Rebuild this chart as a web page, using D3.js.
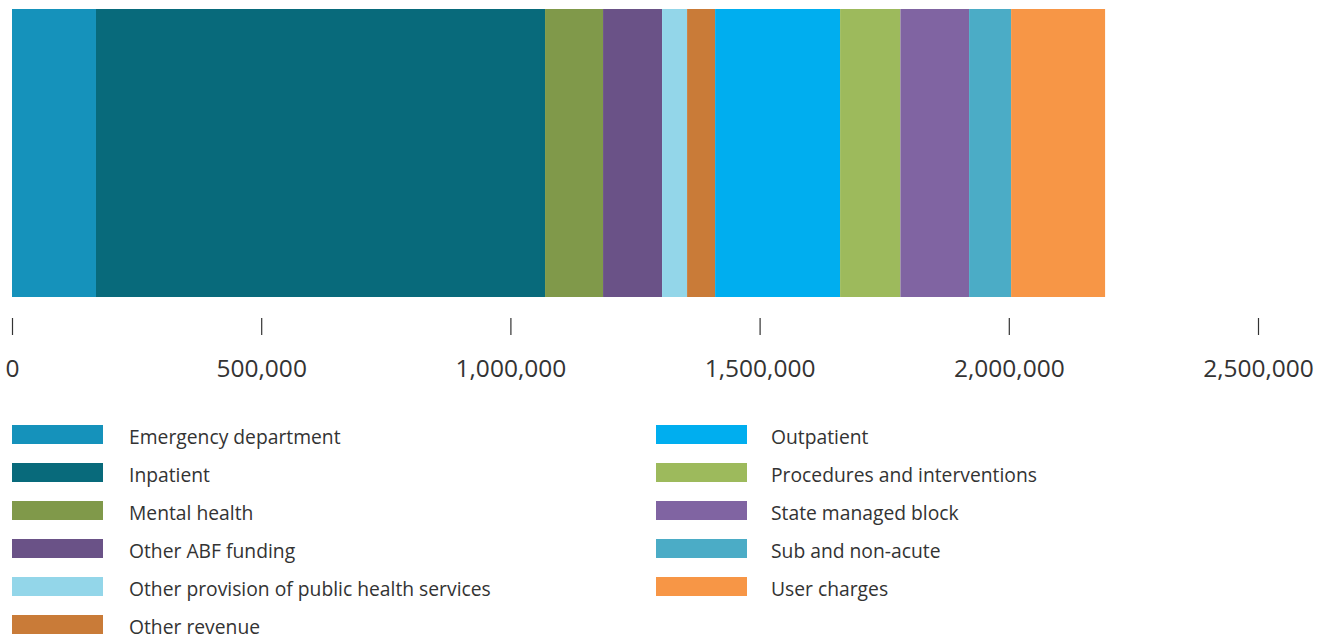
<!DOCTYPE html>
<html><head><meta charset="utf-8">
<script src="https://cdn.jsdelivr.net/npm/d3@7"></script>
<style>body{margin:0;background:#fff}svg{display:block}</style>
</head><body><svg id="c" width="1338" height="636"></svg>
<script>
const categories = ["Emergency department","Inpatient","Mental health","Other ABF funding","Other provision of public health services","Other revenue","Outpatient","Procedures and interventions","State managed block","Sub and non-acute","User charges"];
const values = [168500, 901000, 116400, 118400, 50200, 56200, 250800, 121000, 137800, 84300, 188600];
const colors = ["#1592BB","#086A7B","#80994A","#6A5287","#93D6E9","#C97B38","#00AEEF","#9DBA5C","#8064A2","#4BACC6","#F79646"];
const tickValues = [0, 500000, 1000000, 1500000, 2000000, 2500000];

const svg = d3.select("#c");
const x = d3.scaleLinear().domain([0, 2500000]).range([12, 1258]);
let cum = 0;
const segs = values.map((v,i)=>{const s={name:categories[i],x0:cum,x1:cum+v,color:colors[i]};cum+=v;return s;});

svg.append("g").selectAll("rect").data(segs).join("rect")
  .attr("x", d=>x(d.x0)).attr("width", d=>x(d.x1)-x(d.x0))
  .attr("y", 9).attr("height", 288)
  .attr("fill", d=>d.color);

const ax = svg.append("g").attr("transform","translate(0,318)")
  .call(d3.axisBottom(x).tickValues(tickValues).tickSize(17).tickFormat(d3.format(",")));
ax.select(".domain").remove();
ax.selectAll(".tick line").attr("stroke","#333").attr("stroke-width",1.2);
ax.selectAll(".tick text").attr("y",59).attr("dy",null).attr("fill","#333")
  .style("font-family","'Open Sans', sans-serif").style("font-size","24.5px");

const leg = svg.append("g").selectAll("g").data(segs).join("g")
  .attr("transform",(d,i)=>{const col = i<6?0:1; const row = i<6?i:i-6; return `translate(${col?656:12},${425+row*38})`;});
leg.append("rect").attr("width",91).attr("height",19).attr("fill",d=>d.color);
leg.append("text").attr("x",(d,i)=>i<6?117:115).attr("y",18.5)
  .attr("fill","#333").style("font-family","'Open Sans', sans-serif").style("font-size","19.3px")
  .text(d=>d.name);
</script></body></html>
